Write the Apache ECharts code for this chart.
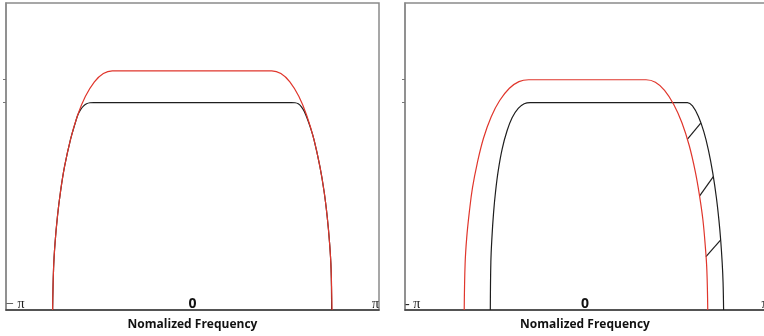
<!DOCTYPE html>
<html>
<head>
<meta charset="utf-8">
<script src="https://cdn.jsdelivr.net/npm/echarts@6/dist/echarts.min.js"></script>
<style>html,body{margin:0;padding:0;background:#fff}#c{width:764px;height:336px}</style>
</head>
<body>
<div id="c"></div>
<script>
// x in units of pi (-1..1), y = relative amplitude (black passband = 1)
const xTickValues = [-1, 0, 1];
const xTickLabelsLeft = ['− π', '0', 'π'];
const xTickLabelsRight = ['- π', '0', 'π'];
const yTickValues = [1.0, 1.114];
const axisName = 'Nomalized Frequency';

const leftRed = [
  [-0.750, 0], [-0.745, 0.199], [-0.737, 0.323], [-0.724, 0.452], [-0.708, 0.569],
  [-0.686, 0.692], [-0.654, 0.823], [-0.616, 0.939], [-0.574, 1.030], [-0.526, 1.100],
  [-0.478, 1.140], [-0.430, 1.153],
  [0.425, 1.153], [0.474, 1.140], [0.522, 1.100], [0.570, 1.030], [0.612, 0.939],
  [0.651, 0.823], [0.683, 0.692], [0.706, 0.569], [0.722, 0.452], [0.735, 0.323],
  [0.743, 0.199], [0.748, 0]
];
const leftBlack = [
  [-0.750, 0], [-0.745, 0.199], [-0.737, 0.323], [-0.724, 0.452], [-0.708, 0.569],
  [-0.686, 0.692], [-0.654, 0.823], [-0.630, 0.897], [-0.615, 0.940], [-0.600, 0.966],
  [-0.585, 0.983], [-0.568, 0.994], [-0.550, 0.999], [-0.530, 1.0],
  [0.530, 1.0], [0.550, 0.999], [0.567, 0.994], [0.583, 0.981], [0.598, 0.960],
  [0.612, 0.930], [0.630, 0.885], [0.651, 0.823], [0.683, 0.692], [0.706, 0.569],
  [0.722, 0.452], [0.735, 0.323], [0.743, 0.199], [0.746, 0]
];
const rightRed = [
  [-0.671, 0], [-0.666, 0.224], [-0.657, 0.350], [-0.642, 0.477], [-0.625, 0.590],
  [-0.599, 0.706], [-0.564, 0.828], [-0.521, 0.932], [-0.474, 1.010], [-0.420, 1.069],
  [-0.367, 1.101], [-0.313, 1.110],
  [0.339, 1.110], [0.391, 1.098], [0.442, 1.059], [0.493, 0.991], [0.538, 0.904],
  [0.579, 0.793], [0.613, 0.666], [0.637, 0.547], [0.655, 0.435], [0.668, 0.311],
  [0.677, 0.192], [0.682, 0]
];
const rightBlack = [
  [-0.526, 0], [-0.523, 0.231], [-0.517, 0.350], [-0.508, 0.468], [-0.497, 0.570],
  [-0.482, 0.672], [-0.460, 0.777], [-0.433, 0.864], [-0.405, 0.927], [-0.371, 0.972],
  [-0.338, 0.994], [-0.305, 1.0],
  [0.569, 1.0], [0.599, 0.982], [0.629, 0.935], [0.660, 0.860], [0.686, 0.770],
  [0.710, 0.660], [0.730, 0.541], [0.744, 0.433], [0.754, 0.335], [0.762, 0.230],
  [0.767, 0.134], [0.770, 0]
];
const hatchLines = [
  [[0.643, 0.901], [0.568, 0.823]],
  [[0.713, 0.643], [0.637, 0.550]],
  [[0.754, 0.338], [0.672, 0.257]]
];

const RED = '#e0362c', BLACK = '#1e1e1e', FRAME = '#8a8a8a';

function xAxisFor(gridIndex, labels, maxAlign) {
  return {
    type: 'value', gridIndex, min: -1, max: 1,
    axisLine: { show: true, onZero: false, lineStyle: { color: '#3a3a3a', width: 1.5 } },
    axisTick: { show: false },
    splitLine: { show: false },
    axisLabel: {
      inside: true, margin: -1, customValues: xTickValues,
      alignMinLabel: 'left', alignMaxLabel: maxAlign,
      formatter: (v) => {
        const i = xTickValues.indexOf(v);
        const t = labels[i];
        return v === 0 ? '{z|' + t + '}' : '{p|' + t + '}';
      },
      rich: {
        z: { fontFamily: 'Open Sans', fontWeight: 'bold', fontSize: 14, color: '#111' },
        p: { fontFamily: 'Liberation Serif', fontSize: 14, color: '#222' }
      }
    },
    name: axisName, nameLocation: 'middle', nameGap: 9,
    nameTextStyle: { fontFamily: 'Open Sans', fontWeight: 'bold', fontSize: 12, color: '#111' }
  };
}
function yAxisFor(gridIndex) {
  return {
    type: 'value', gridIndex, min: 0, max: 1.48,
    axisLine: { show: true, onZero: false, lineStyle: { color: FRAME, width: 1.5 } },
    axisTick: { show: true, customValues: yTickValues, length: 3, lineStyle: { color: '#777', width: 1 } },
    axisLabel: { show: false },
    splitLine: { show: false }
  };
}
function curve(name, data, color, idx) {
  return {
    name, type: 'line', data, xAxisIndex: idx, yAxisIndex: idx,
    showSymbol: false, smooth: 0.4, lineStyle: { color, width: 1.2 }, silent: true
  };
}

const chart = echarts.init(document.getElementById('c'), null, { renderer: 'canvas' });
chart.setOption({
  animation: false,
  backgroundColor: '#fff',
  grid: [
    { left: 6, top: 3, width: 373, height: 307, show: true, borderColor: FRAME, borderWidth: 1.5, containLabel: false, outerBoundsMode: 'none' },
    { left: 405, top: 3, width: 360, height: 307, show: true, borderColor: FRAME, borderWidth: 1.5, containLabel: false, outerBoundsMode: 'none' }
  ],
  xAxis: [xAxisFor(0, xTickLabelsLeft, 'right'), xAxisFor(1, xTickLabelsRight, 'center')],
  yAxis: [yAxisFor(0), yAxisFor(1)],
  series: [
    curve('leftBlack', leftBlack, BLACK, 0),
    curve('leftRed', leftRed, RED, 0),
    curve('rightBlack', rightBlack, BLACK, 1),
    curve('rightRed', rightRed, RED, 1),
    {
      type: 'lines', coordinateSystem: 'cartesian2d', xAxisIndex: 1, yAxisIndex: 1,
      data: hatchLines.map(c => ({ coords: c })),
      lineStyle: { color: BLACK, width: 1.2, opacity: 1 }, silent: true
    }
  ]
});
</script>
</body>
</html>
